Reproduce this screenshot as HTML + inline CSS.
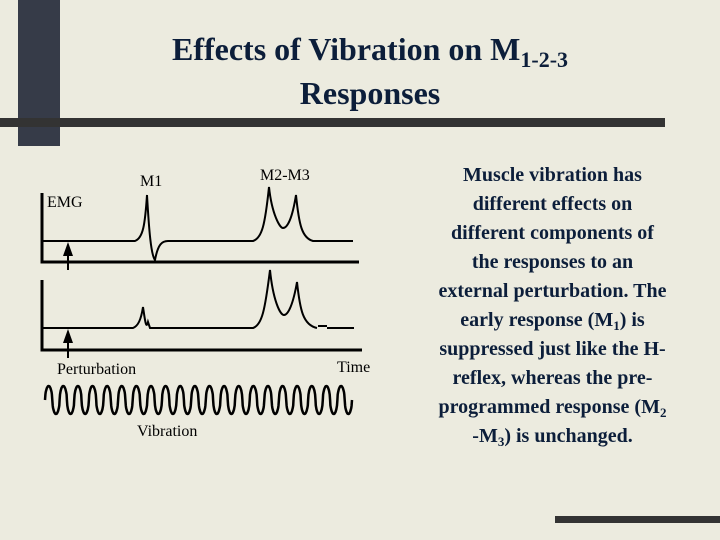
<!DOCTYPE html>
<html><head><meta charset="utf-8"><style>
body{margin:0;width:720px;height:540px;background:#ecebdf;overflow:hidden;position:relative;font-family:"Liberation Serif",serif}
.title{position:absolute;left:90px;width:560px;text-align:center;color:#0c1e3a;font-weight:bold;font-size:32px;line-height:44px;top:27px}
.rt{position:absolute;left:390px;width:325px;top:161px;color:#0c1e3a;font-weight:bold;font-size:20px;line-height:29px;text-align:center}
sub{vertical-align:baseline;position:relative;top:0.3em;line-height:0}
</style></head><body>
<div style="position:absolute;left:18px;top:0;width:42px;height:146px;background:#363b48"></div>
<div style="position:absolute;left:0;top:118px;width:665px;height:9px;background:#333"></div>
<div style="position:absolute;left:555px;top:516px;width:165px;height:7px;background:#333"></div>
<div class="title">Effects of Vibration on M<sub style="font-size:22px">1-2-3</sub><br>Responses</div>
<div class="rt">Muscle vibration has<br>different effects on<br>different components of<br>the responses to an<br>external perturbation. The<br>early response (M<sub style="font-size:13px">1</sub>) is<br>suppressed just like the H-<br>reflex, whereas the pre-<br>programmed response (M<sub style="font-size:13px">2</sub><br>-M<sub style="font-size:13px">3</sub>) is unchanged.</div>
<svg width="720" height="540" style="position:absolute;left:0;top:0" font-family="Liberation Serif, serif" font-size="16">
<g stroke="#000" fill="none" stroke-width="2">
<path d="M42 193V262H359" stroke-width="3"/>
<path d="M42 241H135C143 238 145 225 147 195C149 230 151 255 155 260C158 244 162 241 168 241H253C262 238 265 225 269 187C272 215 280 228 283 228C287 228 292 220 296 195C299 225 302 238 313 241H353"/>
<path d="M42 280V350H362" stroke-width="3"/>
<path d="M42 328H133C138 326 141 320 143 307C145 320 146 330 148 322L150 328H253C262 325 265 310 270 270C273 300 280 315 284 315C288 315 293 305 297 282C300 310 303 325 317 328M318 326H327M327 328H354"/>
<path d="M68 270V252"/>
<path d="M68 358V340"/>
<path id="wave" stroke-width="2.5"/>
</g>
<polygon points="68,242 63,256 73,256" fill="#000"/>
<polygon points="68,329 63,343 73,343" fill="#000"/>
<text x="140" y="186">M1</text>
<text x="260" y="180">M2-M3</text>
<text x="47" y="207">EMG</text>
<text x="57" y="374">Perturbation</text>
<text x="337" y="372">Time</text>
<text x="137" y="436">Vibration</text>
</svg>
<script>
const cycles=21,x0=45,x1=352,yc=400,amp=14;
let d='';const n=cycles*40;
for(let i=0;i<=n;i++){const t=i/n;const x=x0+(x1-x0)*t;const s=Math.sin(t*cycles*2*Math.PI);const v=Math.sign(s)*Math.pow(Math.abs(s),0.5);d+=(i?'L':'M')+x.toFixed(1)+' '+(yc-amp*v).toFixed(1);}
document.getElementById('wave').setAttribute('d',d);
</script>
</body></html>
